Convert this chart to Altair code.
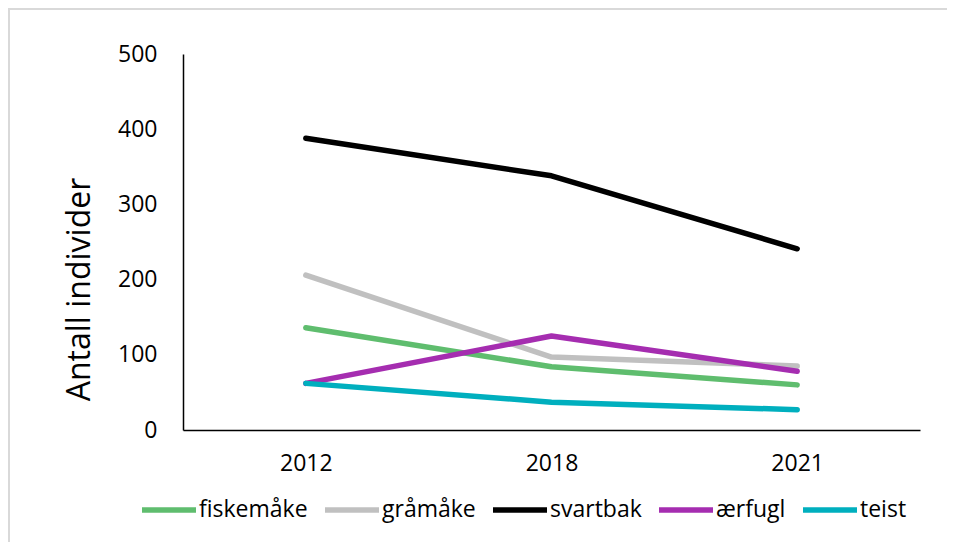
import altair as alt
import pandas as pd

years = ["2012", "2018", "2021"]
species = ["fiskemåke", "gråmåke", "svartbak", "ærfugl", "teist"]
fiskemake = [136, 84, 60]
gramake = [206, 97, 85]
svartbak = [388, 338, 241]
aerfugl = [62, 125, 78]
teist = [62, 37, 27]
colors = ["#5fbd6e", "#c0c0c0", "#000000", "#a52db0", "#00afbe"]

series = [fiskemake, gramake, svartbak, aerfugl, teist]
rows = []
for name, vals in zip(species, series):
    for y, v in zip(years, vals):
        rows.append({"År": y, "Art": name, "Antall": v})
df = pd.DataFrame(rows)

FONT = "Open Sans"

lines = alt.Chart(df).mark_line(strokeWidth=5.5, strokeCap="round", strokeJoin="round").encode(
    x=alt.X("År:N", sort=years, scale=alt.Scale(type="point", padding=0.5),
            axis=alt.Axis(title=None, labelAngle=0, ticks=False, grid=False,
                          domainColor="#000000", domainWidth=1.5,
                          labelFont=FONT, labelFontSize=23, labelColor="#000000",
                          labelPadding=22)),
    y=alt.Y("Antall:Q", scale=alt.Scale(domain=[0, 500]),
            axis=alt.Axis(title="Antall individer", values=[0, 100, 200, 300, 400, 500],
                          ticks=False, grid=False, domainColor="#000000", domainWidth=1.5,
                          labelFont=FONT, labelFontSize=23, labelColor="#000000",
                          labelPadding=26,
                          titleFont=FONT, titleFontSize=32, titleFontWeight="normal",
                          titleColor="#000000", titleAngle=270, titleX=-94, titleY=235,
                          titleAlign="center", titleBaseline="alphabetic")),
    color=alt.Color("Art:N", sort=species,
                    scale=alt.Scale(domain=species, range=colors),
                    legend=alt.Legend(title=None, orient="none", direction="horizontal",
                                      legendX=-44, legendY=426,
                                      symbolType="stroke", symbolSize=2916,
                                      symbolStrokeWidth=5.5, labelFont=FONT,
                                      labelFontSize=23, labelColor="#000000",
                                      labelOffset=0, columnPadding=6, padding=0)),
)

border = alt.Chart(pd.DataFrame({"a": [0]})).mark_rect(
    fill=None, stroke="#d9d9d9", strokeWidth=2
).encode(x=alt.value(-174), x2=alt.value(800), y=alt.value(-45), y2=alt.value(600))

chart = alt.layer(border, lines).properties(
    width=737, height=376,
    autosize=alt.AutoSizeParams(type="none"),
    padding={"left": 175, "top": 46, "right": 27, "bottom": 112},
    background="white",
).configure_view(stroke=None)

chart.save("out.html", embed_options={"renderer": "svg", "actions": False})
